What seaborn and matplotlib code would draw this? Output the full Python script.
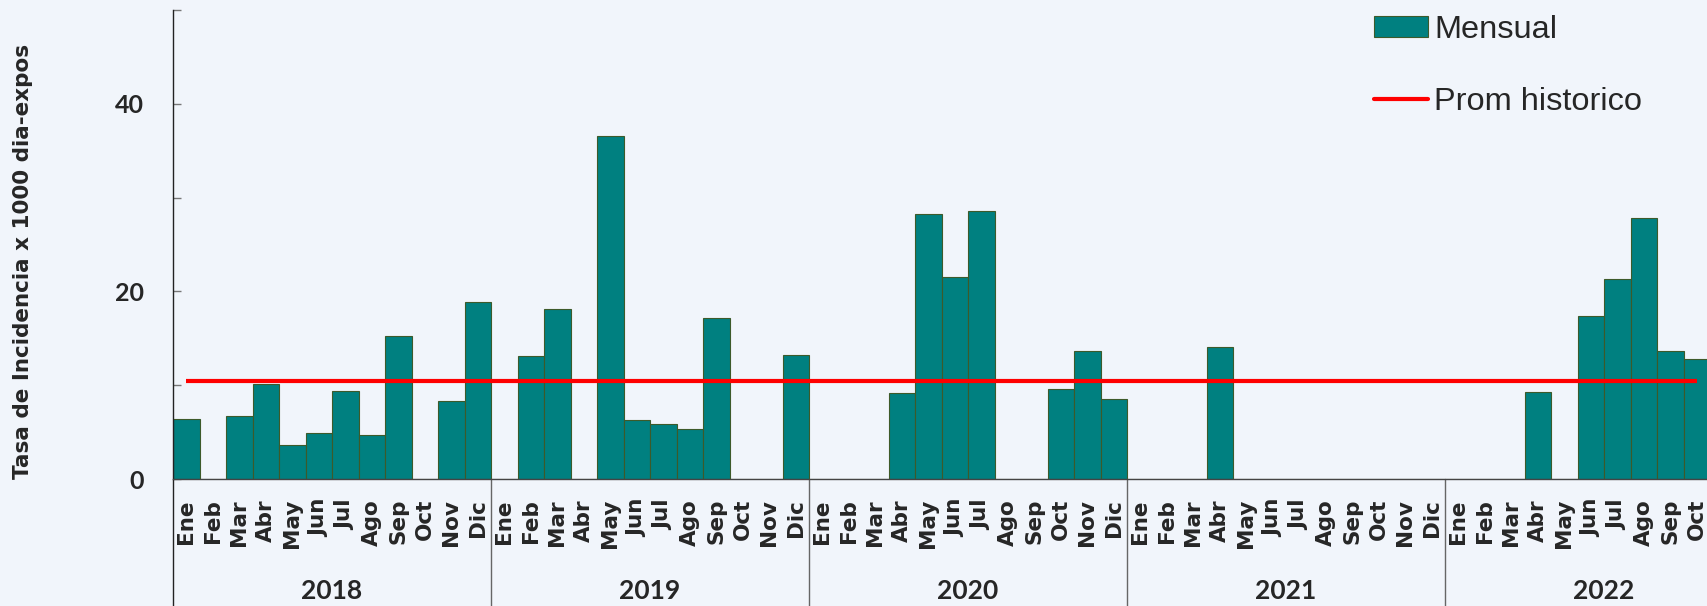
import numpy as np
import pandas as pd
import seaborn as sns
import matplotlib.pyplot as plt
from matplotlib import font_manager as fm
from matplotlib.patches import Patch
from matplotlib.lines import Line2D
from matplotlib.ticker import MultipleLocator

# data
meses = ['Ene', 'Feb', 'Mar', 'Abr', 'May', 'Jun', 'Jul', 'Ago', 'Sep', 'Oct', 'Nov', 'Dic']
anios = ['2018', '2019', '2020', '2021', '2022']
tasa_2018 = [6.4, 0, 6.7, 10.1, 3.7, 4.9, 9.4, 4.7, 15.3, 0, 8.3, 18.9]
tasa_2019 = [0, 13.1, 18.1, 0, 36.6, 6.3, 5.9, 5.4, 17.2, 0, 0, 13.2]
tasa_2020 = [0, 0, 0, 9.2, 28.2, 21.5, 28.6, 0, 0, 9.6, 13.7, 8.5]
tasa_2021 = [0, 0, 0, 14.1, 0, 0, 0, 0, 0, 0, 0, 0]
tasa_2022 = [0, 0, 0, 9.3, 0, 17.4, 21.3, 27.8, 13.7, 12.8]
prom_historico = 10.5

series = [tasa_2018, tasa_2019, tasa_2020, tasa_2021, tasa_2022]
rows = []
for anio, vals in zip(anios, series):
    for m, v in zip(meses, vals):
        rows.append({'anio': anio, 'mes': m, 'clave': anio + '-' + m, 'tasa': v})
df = pd.DataFrame(rows)
n = len(df)

sns.set_style('white')
plt.rcParams['font.family'] = ['Lato', 'DejaVu Sans']

fp_num = fm.FontProperties(family='Lato', weight='bold', size=18)
fp_year = fm.FontProperties(family='Lato', weight='bold', size=19)
fp_mes = fm.FontProperties(family='DejaVu Sans', weight='bold', size=15.5)
fp_ylab = fm.FontProperties(family='DejaVu Sans', weight='bold', size=15.5)

W, H = 1707, 606
bg = '#f1f5fb'
fig = plt.figure(figsize=(W / 100, H / 100), dpi=100, facecolor=bg)
x0, x1, y0, y1 = 173, 1710, 479.3, 9.7
ax = fig.add_axes([x0 / W, 1 - y0 / H, (x1 - x0) / W, (y0 - y1) / H])
ax.set_facecolor('none')

teal = '#008080'
edge = '#3d5a2a'
sns.barplot(data=df, x='clave', y='tasa', color=teal, saturation=1, width=1.0,
            edgecolor=edge, linewidth=0.8, ax=ax)
ax.plot(np.arange(n), [prom_historico] * n, color='#ff0000', lw=3, solid_capstyle='butt')

ax.set_xlim(-0.5, n - 0.5)
ax.set_ylim(0, 50)
ax.yaxis.set_minor_locator(MultipleLocator(10))
ax.tick_params(axis='y', which='both', direction='in', length=6, width=1, color='#777777',
               pad=21, left=True)
ax.set_yticks([0, 20, 40])
ax.set_yticklabels(['0', '20', '40'], fontproperties=fp_num)

ax.set_xticks(np.arange(n))
ax.set_xticklabels([])
ax.tick_params(axis='x', length=0)
ax.set_xlabel('')
ax.set_ylabel('Tasa de Incidencia x 1000 dia-expos', fontproperties=fp_ylab)
ax.yaxis.set_label_coords((33 - x0) / (x1 - x0), (y0 - 261) / (y0 - y1))

for s in ['top', 'right']:
    ax.spines[s].set_visible(False)
ax.spines['left'].set_color('#222222')
ax.spines['bottom'].set_color('#444444')
ax.spines['left'].set_linewidth(1)
ax.spines['bottom'].set_linewidth(1)

# multi-level category axis: month labels, year separators and year labels
trans = ax.get_xaxis_transform()
hpx = y0 - y1
for i, m in enumerate(df['mes']):
    ax.text(i, (y0 - 499) / hpx, m, transform=trans, rotation=90, ha='center', va='top',
            fontproperties=fp_mes, clip_on=False)

yb = -(H - y0) / hpx
start = 0
for anio, vals in zip(anios, series):
    k = len(vals)
    ax.plot([start - 0.5, start - 0.5], [0, yb], transform=trans, clip_on=False,
            color='#222222' if start == 0 else '#666666', lw=1)
    ax.text(start + 5.5, (y0 - 591) / hpx, anio, transform=trans, ha='center',
            va='center', fontproperties=fp_year)
    start += k

handles = [Patch(facecolor=teal, edgecolor=edge, linewidth=0.8),
           Line2D([0], [0], color='#ff0000', lw=3)]
fig.legend(handles, ['Mensual', 'Prom historico'], loc='upper left',
           bbox_to_anchor=(1374 / W, 1 - 15 / H), frameon=False, borderpad=0,
           borderaxespad=0,
           prop={'family': 'Liberation Sans', 'size': 23.4, 'weight': 'normal'},
           handlelength=1.65, handleheight=0.6, handletextpad=0.2, labelspacing=1.3)

fig.savefig('out.png', dpi=100, facecolor=bg)
